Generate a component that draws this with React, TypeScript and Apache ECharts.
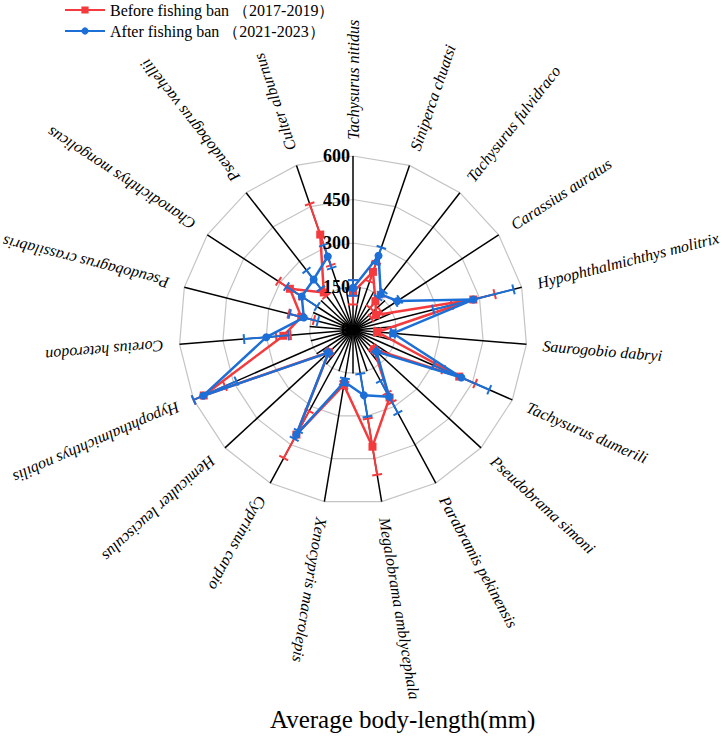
import React, { useEffect, useRef } from 'react';
import * as echarts from 'echarts';

const species = [
  'Tachysurus nitidus', 'Siniperca chuatsi', 'Tachysurus fulvidraco', 'Carassius auratus',
  'Hypophthalmichthys molitrix', 'Saurogobio dabryi', 'Tachysurus dumerili', 'Pseudobrama simoni',
  'Parabramis pekinensis', 'Megalobrama amblycephala', 'Xenocypris macrolepis', 'Cyprinus carpio',
  'Hemiculter leucisculus', 'Hypophthalmichthys nobilis', 'Coreius heterodon', 'Pseudobagrus crassilabris',
  'Chanodichthys mongolicus', 'Pseudobagrus vachellii', 'Culter alburnus',
];

const beforeMean = [130, 212, 126, 95, 428, 84, 400, 98, 265, 408, 192, 410, 113, 562, 241, 184, 260, 164, 348];
const beforeSd = [42, 35, 30, 20, 76, 10, 60, 10, 18, 98, 12, 92, 8, 80, 25, 45, 47, 15, 112];
const afterMean = [145, 271, 156, 183, 428, 138, 408, 110, 262, 228, 181, 411, 115, 564, 300, 175, 211, 221, 268];
const afterSd = [27, 30, 15, 10, 143, 8, 105, 10, 63, 75, 12, 15, 8, 125, 77, 50, 63, 40, 42];

const radiusTicks = [0, 150, 300, 450, 600];
const seriesNames = ['Before fishing ban （2017-2019）', 'After fishing ban （2021-2023）'];
const axisTitle = 'Average body-length(mm)';

const RED = '#f43a3d';
const BLUE = '#1c6fd6';
const SERIF = "'Liberation Serif', 'Times New Roman', serif";
const RMAX = 600;
const SHORT_SPOKE = 150;
const LABEL_R = 656;

function errorSeries(mean: number[], sd: number[], color: string, z: number) {
  return {
    type: 'custom',
    coordinateSystem: 'polar',
    silent: true,
    z,
    data: mean.map((m, i) => [m, i, sd[i]]),
    renderItem: (params: any, api: any) => {
      const m = api.value(0);
      const i = api.value(1);
      const s = api.value(2);
      const lo = Math.max(0, m - s);
      const hi = Math.min(RMAX, m + s);
      const c = api.coord([0, i]);
      const e = api.coord([RMAX, i]);
      const dx = e[0] - c[0];
      const dy = e[1] - c[1];
      const len = Math.hypot(dx, dy) || 1;
      const nx = -dy / len;
      const ny = dx / len;
      const p0 = api.coord([lo, i]);
      const p1 = api.coord([hi, i]);
      const h = 5;
      const st = { stroke: color, lineWidth: 2 };
      return {
        type: 'group',
        children: [
          { type: 'line', shape: { x1: p0[0], y1: p0[1], x2: p1[0], y2: p1[1] }, style: st },
          { type: 'line', shape: { x1: p0[0] - nx * h, y1: p0[1] - ny * h, x2: p0[0] + nx * h, y2: p0[1] + ny * h }, style: st },
          { type: 'line', shape: { x1: p1[0] - nx * h, y1: p1[1] - ny * h, x2: p1[0] + nx * h, y2: p1[1] + ny * h }, style: st },
        ],
      };
    },
  };
}

function closed(arr: number[]) {
  return arr.map((v, i) => [v, i]).concat([[arr[0], 0]]);
}

export default function App() {
  const ref = useRef<HTMLDivElement>(null);
  useEffect(() => {
    if (!ref.current) return;
    const chart = echarts.init(ref.current, null, { renderer: 'svg' });
    const n = species.length;
    const option: any = {
      animation: false,
      backgroundColor: '#ffffff',
      title: {
        text: axisTitle,
        left: 270,
        top: 707,
        padding: 0,
        textStyle: { fontFamily: SERIF, fontSize: 25, fontWeight: 'normal', color: '#000' },
      },
      legend: {
        orient: 'vertical',
        left: 64,
        top: 2,
        itemWidth: 40,
        itemHeight: 9,
        itemGap: 5,
        padding: 0,
        textStyle: { fontFamily: SERIF, fontSize: 16, color: '#000' },
        data: seriesNames,
      },
      polar: { center: [353, 330], radius: 174 },
      angleAxis: {
        type: 'category',
        data: species,
        boundaryGap: false,
        startAngle: 90,
        clockwise: true,
        axisLine: { show: false },
        axisTick: { show: false },
        axisLabel: { show: false },
        splitLine: { show: false },
      },
      radiusAxis: {
        type: 'value',
        min: 0,
        max: RMAX,
        interval: 150,
        axisLine: { show: false },
        axisTick: { show: false },
        axisLabel: { show: false },
        splitLine: { show: false },
      },
      series: [
        {
          type: 'custom',
          coordinateSystem: 'polar',
          silent: true,
          z: 1,
          data: radiusTicks.filter((v) => v > 0).map((v) => [v, 0]),
          renderItem: (params: any, api: any) => {
            const r = api.value(0);
            const pts = species.map((_, j) => api.coord([r, j]));
            return {
              type: 'polygon',
              shape: { points: pts },
              style: { fill: 'none', stroke: '#c4c4c4', lineWidth: 1.2 },
            };
          },
        },
        {
          type: 'custom',
          coordinateSystem: 'polar',
          silent: true,
          z: 2,
          data: species.map((_, i) => [RMAX, i]),
          renderItem: (params: any, api: any) => {
            const i = api.value(1);
            const c = api.coord([0, i]);
            const p = api.coord([RMAX, i]);
            const q1 = api.coord([SHORT_SPOKE, i]);
            const q2 = api.coord([SHORT_SPOKE, (i + 1) % n]);
            const r = Math.hypot(q1[0] - c[0], q1[1] - c[1]);
            let mx = q1[0] + q2[0] - 2 * c[0];
            let my = q1[1] + q2[1] - 2 * c[1];
            const ml = Math.hypot(mx, my) || 1;
            mx = (mx / ml) * r;
            my = (my / ml) * r;
            const st = { stroke: '#000', lineWidth: 1.5 };
            return {
              type: 'group',
              children: [
                { type: 'line', shape: { x1: c[0], y1: c[1], x2: p[0], y2: p[1] }, style: st },
                { type: 'line', shape: { x1: c[0], y1: c[1], x2: c[0] + mx, y2: c[1] + my }, style: st },
              ],
            };
          },
        },
        {
          name: seriesNames[0],
          type: 'line',
          coordinateSystem: 'polar',
          z: 3,
          data: closed(beforeMean),
          symbol: 'rect',
          symbolSize: 8,
          lineStyle: { color: RED, width: 2.5 },
          itemStyle: { color: RED },
        },
        errorSeries(beforeMean, beforeSd, RED, 3),
        {
          name: seriesNames[1],
          type: 'line',
          coordinateSystem: 'polar',
          z: 4,
          data: closed(afterMean),
          symbol: 'circle',
          symbolSize: 8,
          lineStyle: { color: BLUE, width: 2.5 },
          itemStyle: { color: BLUE },
        },
        errorSeries(afterMean, afterSd, BLUE, 4),
        {
          type: 'custom',
          coordinateSystem: 'polar',
          silent: true,
          z: 6,
          data: radiusTicks.map((v) => [v, 0]),
          renderItem: (params: any, api: any) => {
            const v = api.value(0);
            const p = api.coord([v, 0]);
            return {
              type: 'text',
              x: p[0] - 3,
              y: p[1],
              style: {
                text: String(v),
                align: 'right',
                verticalAlign: 'middle',
                fill: '#000',
                fontFamily: SERIF,
                fontSize: 18,
                fontWeight: 'bold',
              },
            };
          },
        },
        {
          type: 'custom',
          coordinateSystem: 'polar',
          silent: true,
          z: 6,
          data: species.map((_, i) => [LABEL_R, i]),
          renderItem: (params: any, api: any) => {
            const i = api.value(1);
            const c = api.coord([0, i]);
            const p = api.coord([LABEL_R, i]);
            const theta = Math.atan2(-(p[1] - c[1]), p[0] - c[0]);
            return {
              type: 'text',
              x: p[0],
              y: p[1],
              rotation: theta,
              style: {
                text: species[i],
                align: 'left',
                verticalAlign: 'middle',
                fill: '#000',
                fontFamily: SERIF,
                fontSize: 16,
                fontStyle: 'italic',
              },
            };
          },
        },
      ],
    };
    chart.setOption(option);
    return () => chart.dispose();
  }, []);
  return (
    <div
      ref={ref}
      style={{ position: 'fixed', left: 0, top: 0, width: 726, height: 737, background: '#fff' }}
    />
  );
}
